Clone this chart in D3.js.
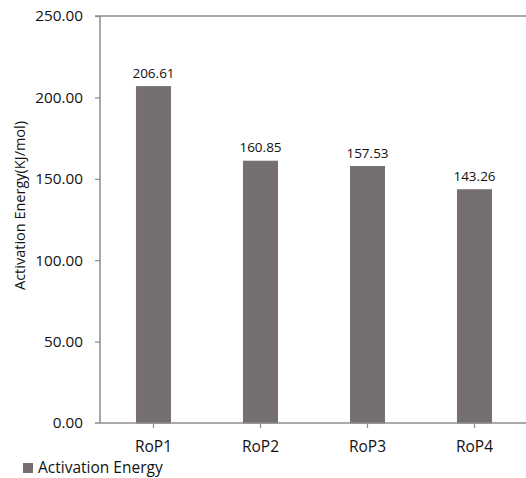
<!DOCTYPE html>
<html>
<head>
<meta charset="utf-8">
<script src="https://cdn.jsdelivr.net/npm/d3@7"></script>
<style>
  html, body { margin: 0; padding: 0; background: #fff; }
  svg { display: block; font-family: "Open Sans", sans-serif; }
</style>
</head>
<body>
<svg id="chart" width="526" height="478"></svg>
<script>
// Activation energy per sample
const categories = ["RoP1", "RoP2", "RoP3", "RoP4"];
const activationEnergy = [206.61, 160.85, 157.53, 143.26];
const yTicks = [0, 50, 100, 150, 200, 250];
const seriesName = "Activation Energy";
const yTitle = "Activation Energy(KJ/mol)";

const svg = d3.select("#chart");
const margin = { left: 100, right: -2, top: 16, bottom: 55 };
const width = 526, height = 478;
const x0 = margin.left, x1 = width - margin.right;
const yTop = margin.top, yBot = height - margin.bottom;

const x = d3.scaleBand().domain(categories).range([x0, x1])
  .paddingInner(0.68).paddingOuter(0.34);
const y = d3.scaleLinear().domain([0, 250]).range([yBot, yTop]);

const axisColor = "#8c8c8c";
const barColor = "#766f6f";
const textColor = "#111";
const font = "'Open Sans', sans-serif";

// Top border of the plot area
svg.append("line")
  .attr("x1", x0 - 5).attr("x2", width)
  .attr("y1", y(250)).attr("y2", y(250))
  .attr("stroke", axisColor).attr("stroke-width", 1.5);

// Bars
svg.append("g").selectAll("rect")
  .data(activationEnergy)
  .join("rect")
  .attr("x", (d, i) => x(categories[i]))
  .attr("width", x.bandwidth())
  .attr("y", d => y(d))
  .attr("height", d => y(0) - y(d))
  .attr("fill", barColor)
  .attr("stroke", "#6a6363").attr("stroke-width", 0.8);

// Value labels
svg.append("g").selectAll("text")
  .data(activationEnergy)
  .join("text")
  .attr("x", (d, i) => x(categories[i]) + x.bandwidth() / 2)
  .attr("y", d => y(d) - 9)
  .attr("text-anchor", "middle")
  .attr("font-size", 13.5)
  .attr("fill", textColor)
  .text(d => d.toFixed(2));

// Y axis
const yAxis = d3.axisLeft(y).tickValues(yTicks).tickFormat(d3.format(".2f"))
  .tickSize(5).tickPadding(12);
const gy = svg.append("g").attr("transform", `translate(${x0},0)`).call(yAxis);
gy.select(".domain").attr("stroke", axisColor).attr("stroke-width", 1.5)
  .attr("d", `M0,${yTop}V${yBot}`);
gy.selectAll(".tick line").attr("stroke", axisColor).attr("stroke-width", 1.2);
gy.selectAll(".tick text").attr("font-size", 15.3).attr("fill", textColor)
  .attr("font-family", font);
gy.selectAll(".tick").filter(d => d === 0).select("line").remove();

// X axis
const xAxis = d3.axisBottom(x).tickSize(5).tickPadding(13);
const gx = svg.append("g").attr("transform", `translate(0,${yBot})`).call(xAxis);
gx.select(".domain").attr("stroke", axisColor).attr("stroke-width", 1.5)
  .attr("d", `M${x0 - 5},0H${width}`);
gx.selectAll(".tick line").attr("stroke", axisColor).attr("stroke-width", 1.2);
gx.selectAll(".tick text").attr("font-size", 15.5).attr("fill", textColor)
  .attr("font-family", font);

// Y axis title
svg.append("text")
  .attr("transform", `translate(25,${(yTop + yBot) / 2 - 14}) rotate(-90)`)
  .attr("text-anchor", "middle")
  .attr("font-size", 14.5)
  .attr("fill", textColor)
  .text(yTitle);

// Legend
const lg = svg.append("g").attr("transform", "translate(23,473)");
lg.append("rect").attr("x", 0).attr("y", -10).attr("width", 10).attr("height", 10)
  .attr("fill", barColor);
lg.append("text").attr("x", 15).attr("y", 0)
  .attr("font-size", 15.5).attr("fill", textColor)
  .text(seriesName);
</script>
</body>
</html>
